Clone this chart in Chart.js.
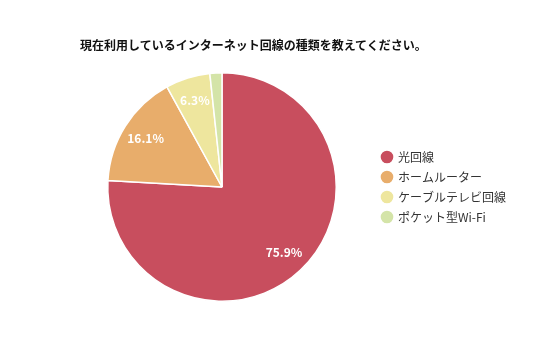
<!DOCTYPE html>
<html>
<head>
<meta charset="utf-8">
<script src="https://cdn.jsdelivr.net/npm/chart.js@4"></script>
<style>
  html, body { margin:0; padding:0; background:#fff; }
  #wrap { width:536px; height:357px; position:relative; }
  #title { position:absolute; left:80px; top:37px; font:bold 12px "Noto Sans CJK JP", "Noto Sans", sans-serif; color:#111; line-height:16px; white-space:nowrap; }
</style>
</head>
<body>
<div id="wrap"><canvas id="pie"></canvas><div id="title"></div></div>
<script>
const TITLE = '現在利用しているインターネット回線の種類を教えてください。';
const labels = ['光回線', 'ホームルーター', 'ケーブルテレビ回線', 'ポケット型Wi-Fi'];
const shares = [75.9, 16.1, 6.3, 1.7];
const colors = ['#c84e5e', '#e8ad6b', '#eee69e', '#d4e4a8'];
const shownLabels = [true, true, true, false];

const FONT = '"Noto Sans CJK JP", "Noto Sans", sans-serif';
document.getElementById('title').textContent = TITLE;

// percentage labels inside the slices
const sliceLabels = {
  id: 'sliceLabels',
  afterDatasetsDraw(chart) {
    const { ctx } = chart;
    const meta = chart.getDatasetMeta(0);
    ctx.save();
    ctx.fillStyle = '#fff';
    ctx.font = 'bold 12px ' + FONT;
    ctx.textAlign = 'center';
    ctx.textBaseline = 'middle';
    meta.data.forEach((arc, i) => {
      if (!shownLabels[i]) return;
      const p = arc.getProps(['x', 'y', 'startAngle', 'endAngle', 'outerRadius'], true);
      const mid = (p.startAngle + p.endAngle) / 2;
      const r = p.outerRadius * 0.79;
      ctx.fillText(shares[i].toFixed(1) + '%', p.x + Math.cos(mid) * r, p.y + Math.sin(mid) * r);
    });
    ctx.restore();
  }
};

new Chart(document.getElementById('pie'), {
  type: 'pie',
  data: {
    labels,
    datasets: [{ data: shares, backgroundColor: colors, borderColor: '#fff', borderWidth: 1.5 }]
  },
  options: {
    responsive: true, maintainAspectRatio: false, animation: false,
    layout: { padding: { left: 70, right: 20, top: 72, bottom: 55 } },
    plugins: {
      legend: { position: 'right', fullSize: false,
        labels: { usePointStyle: true, pointStyle: 'circle', boxWidth: 10, boxHeight: 10, padding: 8,
          color: '#333', font: { size: 12, family: FONT } } },
      tooltip: { enabled: false }
    }
  },
  plugins: [sliceLabels]
});
</script>
</body>
</html>
